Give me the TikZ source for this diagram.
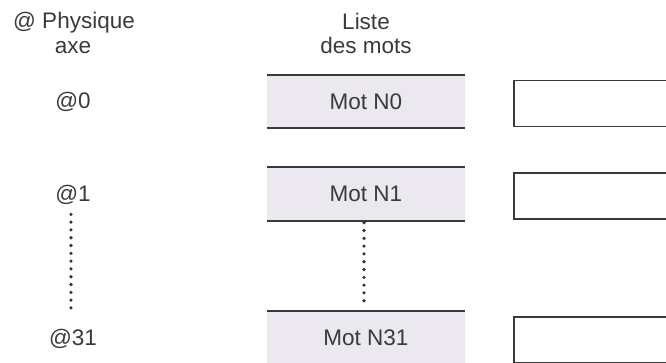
\documentclass[tikz,border=0pt]{standalone}
\usepackage{fontspec}
\setmainfont{Liberation Sans}
\usetikzlibrary{calc}
\definecolor{motfill}{RGB}{236,232,240}
\definecolor{trait}{RGB}{58,58,58}

\begin{document}
\begin{tikzpicture}[x=1pt,y=-1pt,
  txt/.style={font=\fontsize{22.5}{25}\selectfont,text=trait,inner sep=0pt},
  motbox/.style={txt,fill=motfill,minimum width=198pt,minimum height=53pt},
  regbox/.style={draw=trait,line width=1.8pt,minimum width=200pt,minimum height=46pt,inner sep=0pt},
  filet/.style={trait,line width=1.8pt},
  pointille/.style={trait!90!black,line width=3.6pt,line cap=round,dash pattern=on 0pt off 7.8pt}]
  \useasboundingbox (0,0) rectangle (666,362);
  \clip (0,0) rectangle (666,362);
  % column headers
  \node[txt,anchor=base] (hphys) at (74,28) {@ Physique};
  \node[txt,anchor=base] (haxe) at (73,53) {axe};
  \node[txt,anchor=base] (hliste) at (366,29) {Liste};
  \node[txt,anchor=base] (hmots) at (366,53) {des mots};
  % one row per word: address, word, register
  \foreach \n/\y in {0/101.5,1/194,31/338}{
    \node[txt,anchor=base] (ad\n) at (73,\y+7) {@\n};
    \node[motbox] (mot\n) at (366,\y) {Mot N\n};
    \draw[filet] (mot\n.north west) -- (mot\n.north east);
    \draw[filet] (mot\n.south west) -- (mot\n.south east);
    \node[regbox,anchor=west] (reg\n) at (513,\y+2) {};
  }
  % dotted links
  \draw[pointille,shorten <=10pt,shorten >=16pt] ([xshift=-2pt]ad1.south) -- ([xshift=-2pt]ad31.north);
  \draw[pointille,shorten <=2pt,shorten >=6pt] ([xshift=-2pt]mot1.south) -- ([xshift=-2pt]mot31.north);
\end{tikzpicture}
\end{document}
